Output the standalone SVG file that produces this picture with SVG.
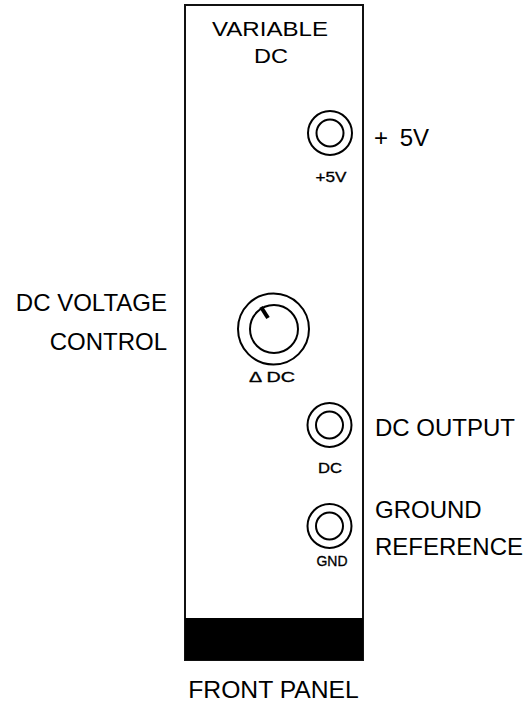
<svg xmlns="http://www.w3.org/2000/svg" width="530" height="711" viewBox="0 0 530 711">
<style>
.lbl{font-family:"Liberation Sans",Arial,sans-serif;font-size:24px;fill:#000}
.sm{font-family:"Liberation Sans",Arial,sans-serif;font-size:15.5px;fill:#000;stroke:#000;stroke-width:0.35;text-anchor:middle}
.ttl{font-family:"Liberation Sans",Arial,sans-serif;font-size:21px;fill:#000;text-anchor:middle}
.ring{fill:none;stroke:#000;stroke-width:2}
</style>
<rect width="530" height="711" fill="#fff"/>
<g id="panel">
<rect x="185" y="5" width="178" height="655" fill="#fff" stroke="#111" stroke-width="2"/>
<rect x="185" y="618" width="178" height="42" fill="#000"/>
<text class="ttl" x="270" y="36" textLength="116" lengthAdjust="spacingAndGlyphs">VARIABLE</text>
<text class="ttl" x="271" y="63" textLength="34" lengthAdjust="spacingAndGlyphs">DC</text>
</g>
<g id="jack-5v">
<circle class="ring" cx="330" cy="133" r="22"/>
<circle class="ring" cx="330" cy="133" r="13.5"/>
<text class="sm" x="331" y="182" textLength="31" lengthAdjust="spacingAndGlyphs">+5V</text>
</g>
<g id="knob">
<circle class="ring" cx="273.5" cy="329" r="35.5"/>
<circle class="ring" cx="274" cy="329" r="24"/>
<line x1="261" y1="307" x2="268" y2="318" stroke="#000" stroke-width="4"/>
<text class="sm" x="272" y="382" textLength="46" lengthAdjust="spacingAndGlyphs">Δ DC</text>
</g>
<g id="jack-dc">
<circle class="ring" cx="329.5" cy="425" r="22"/>
<circle class="ring" cx="329.5" cy="425" r="13.5"/>
<text class="sm" x="330" y="473" textLength="24" lengthAdjust="spacingAndGlyphs">DC</text>
</g>
<g id="jack-gnd">
<circle class="ring" cx="329.5" cy="526" r="22"/>
<circle class="ring" cx="329.5" cy="526" r="13.5"/>
<text class="sm" x="332" y="566" textLength="31" lengthAdjust="spacingAndGlyphs">GND</text>
</g>
<g id="labels">
<text class="lbl" x="374" y="146" word-spacing="5">+ 5V</text>
<text class="lbl" x="167" y="311" text-anchor="end">DC VOLTAGE</text>
<text class="lbl" x="167" y="350" text-anchor="end">CONTROL</text>
<text class="lbl" x="375" y="436">DC OUTPUT</text>
<text class="lbl" x="375" y="518">GROUND</text>
<text class="lbl" x="375" y="555">REFERENCE</text>
<text class="lbl" x="273.5" y="698" text-anchor="middle" style="font-size:24.7px">FRONT PANEL</text>
</g>
</svg>
